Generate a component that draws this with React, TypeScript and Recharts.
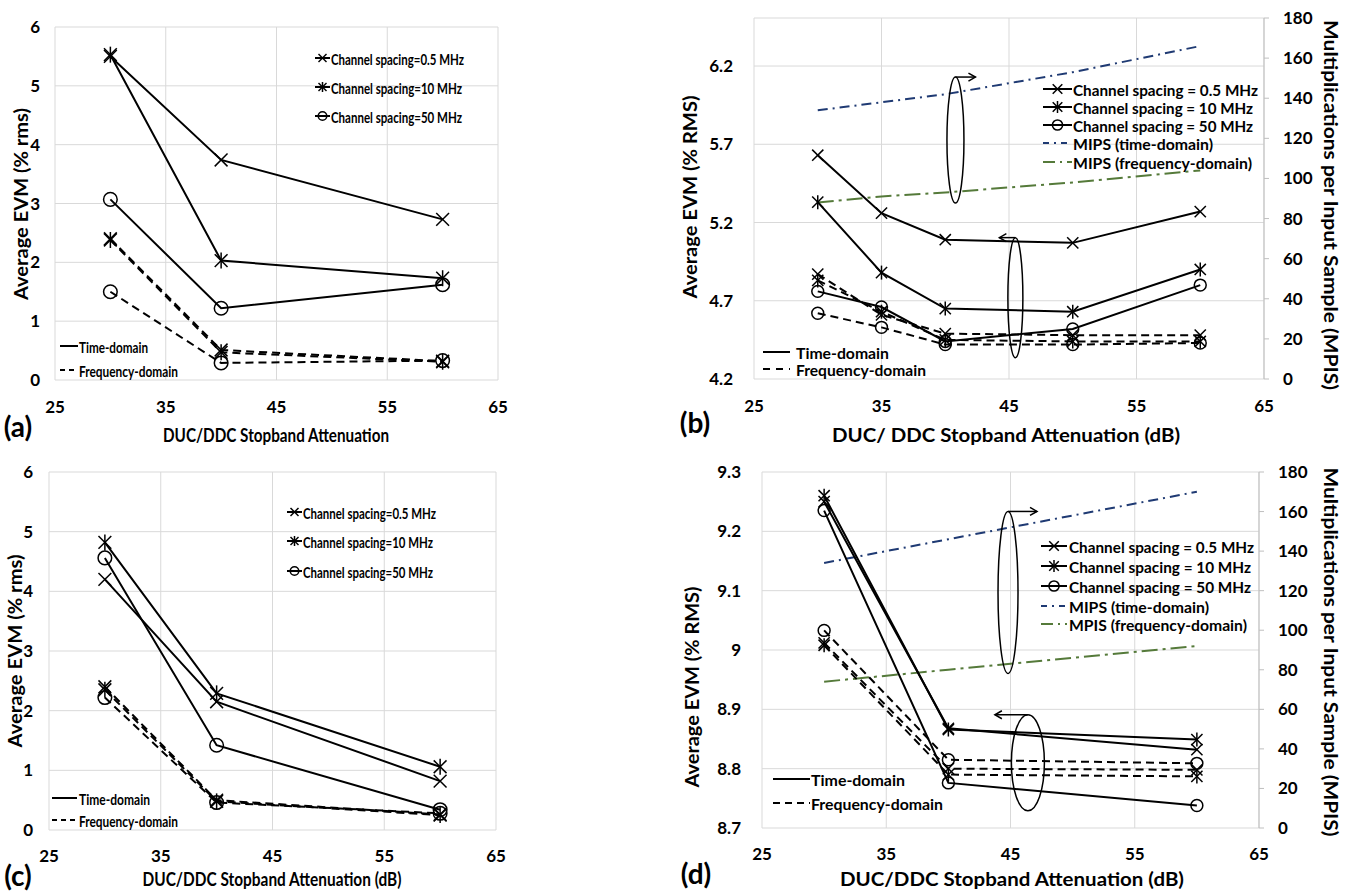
import React from "react";
import { LineChart, Line, XAxis, YAxis, CartesianGrid, ReferenceDot } from "recharts";

document.body.style.margin = "0";

const FONT = "Lato, 'Open Sans', 'DejaVu Sans', sans-serif";
const INK = "#000";
const GRID = "#d9d9d9";
const NAVY = "#1f3a73";
const OLIVE = "#557a3a";
const DASH = "8 5";
const DASH_DOT_TIME = "10 5 2 5";
const DASH_DOT_FREQ = "16 5 3 5";

// stopband attenuation points (dB)
const attenSparse = [30, 40, 60];
const attenDense = [30, 35, 40, 50, 60];
const attenTicks = [25, 35, 45, 55, 65];

// (a) average EVM (% rms)
const aTime05 = [5.5, 3.74, 2.73];
const aTime10 = [5.53, 2.03, 1.73];
const aTime50 = [3.07, 1.22, 1.62];
const aFreq05 = [2.4, 0.51, 0.32];
const aFreq10 = [2.38, 0.47, 0.31];
const aFreq50 = [1.5, 0.29, 0.33];

// (b) average EVM (% RMS) and multiplications per input sample
const bTime05 = [5.63, 5.26, 5.09, 5.07, 5.27];
const bTime10 = [5.33, 4.88, 4.65, 4.63, 4.9];
const bTime50 = [4.76, 4.66, 4.44, 4.52, 4.8];
const bFreq05 = [4.87, 4.61, 4.49, 4.48, 4.48];
const bFreq10 = [4.83, 4.63, 4.45, 4.44, 4.44];
const bFreq50 = [4.62, 4.53, 4.42, 4.42, 4.43];
const bMipsTime = [134, 138, 142, 153, 166];
const bMipsFreq = [88, 91, 93, 98, 104];

// (c) average EVM (% rms)
const cTime05 = [4.2, 2.15, 0.82];
const cTime10 = [4.82, 2.29, 1.06];
const cTime50 = [4.56, 1.42, 0.34];
const cFreq05 = [2.4, 0.5, 0.26];
const cFreq10 = [2.35, 0.48, 0.25];
const cFreq50 = [2.22, 0.46, 0.28];

// (d) average EVM (% RMS) and multiplications per input sample
const dTime05 = [9.25, 8.868, 8.832];
const dTime10 = [9.26, 8.866, 8.849];
const dTime50 = [9.235, 8.776, 8.738];
const dFreq05 = [9.012, 8.8, 8.798];
const dFreq10 = [9.008, 8.79, 8.787];
const dFreq50 = [9.033, 8.815, 8.809];
const dMipsTime = [134, 146, 170];
const dMipsFreq = [74, 80, 92];

const evmTicksRms = [0, 1, 2, 3, 4, 5, 6];
const evmTicksB = [4.2, 4.7, 5.2, 5.7, 6.2];
const evmTicksD = [8.7, 8.8, 8.9, 9, 9.1, 9.2, 9.3];
const mipsTicks = [0, 20, 40, 60, 80, 100, 120, 140, 160, 180];

type Row = Record<string, number>;

function buildRows(xs: number[], cols: Record<string, number[]>): Row[] {
  return xs.map((x, i) => {
    const r: Row = { x };
    for (const k of Object.keys(cols)) r[k] = cols[k][i];
    return r;
  });
}

const rowsA = buildRows(attenSparse, { t05: aTime05, t10: aTime10, t50: aTime50, f05: aFreq05, f10: aFreq10, f50: aFreq50 });
const rowsB = buildRows(attenDense, { t05: bTime05, t10: bTime10, t50: bTime50, f05: bFreq05, f10: bFreq10, f50: bFreq50, mt: bMipsTime, mf: bMipsFreq });
const rowsC = buildRows(attenSparse, { t05: cTime05, t10: cTime10, t50: cTime50, f05: cFreq05, f10: cFreq10, f50: cFreq50 });
const rowsD = buildRows(attenSparse, { t05: dTime05, t10: dTime10, t50: dTime50, f05: dFreq05, f10: dFreq10, f50: dFreq50, mt: dMipsTime, mf: dMipsFreq });

type Kind = "x" | "star" | "o";

const evmSeries: { key: string; kind: Kind; dashed: boolean }[] = [
  { key: "f05", kind: "x", dashed: true },
  { key: "f10", kind: "star", dashed: true },
  { key: "f50", kind: "o", dashed: true },
  { key: "t05", kind: "x", dashed: false },
  { key: "t10", kind: "star", dashed: false },
  { key: "t50", kind: "o", dashed: false },
];

function Marker({ cx, cy, kind, r }: { cx?: number; cy?: number; kind: Kind; r: number }) {
  if (cx == null || cy == null) return null;
  if (kind === "o") {
    return <circle cx={cx} cy={cy} r={r * 0.85} fill="none" stroke={INK} strokeWidth={1.5} />;
  }
  const d = r * 0.8;
  return (
    <g stroke={INK} strokeWidth={1.5}>
      <line x1={cx - d} y1={cy - d} x2={cx + d} y2={cy + d} />
      <line x1={cx - d} y1={cy + d} x2={cx + d} y2={cy - d} />
      {kind === "star" && <line x1={cx} y1={cy - r} x2={cx} y2={cy + r} />}
    </g>
  );
}

const dotFor = (kind: Kind, r: number) => (p: any) =>
  <Marker key={`${p.dataKey}-${p.index}`} cx={p.cx} cy={p.cy} kind={kind} r={r} />;

// ellipse grouping a set of curves, with an arrow to the axis they belong to
type Loop = { x: number; y: number; rx: number; ry: number; dir: 1 | -1; len: number };

function LoopShape({ cx, cy, loop }: { cx: number; cy: number; loop: Loop }) {
  const top = cy - loop.ry;
  const end = cx + loop.dir * loop.len;
  return (
    <g stroke={INK} strokeWidth={1.5} fill="none">
      <ellipse cx={cx} cy={cy} rx={loop.rx} ry={loop.ry} />
      <line x1={cx} y1={top} x2={end} y2={top} />
      <path d={`M${end - loop.dir * 7},${top - 4} L${end},${top} L${end - loop.dir * 7},${top + 4}`} />
    </g>
  );
}

const loopsB: Loop[] = [
  { x: 40.8, y: 5.727, rx: 8.5, ry: 63, dir: 1, len: 20 },
  { x: 45.5, y: 4.72, rx: 7.5, ry: 60, dir: -1, len: 16 },
];
const loopsD: Loop[] = [
  { x: 44.8, y: 9.097, rx: 10, ry: 81, dir: 1, len: 29 },
  { x: 46.4, y: 8.81, rx: 16.5, ry: 48, dir: -1, len: 33 },
];

const tickStyle = { fill: INK, fontSize: 17, fontWeight: 700, fontFamily: FONT };

type PanelProps = {
  left: number;
  top: number;
  width: number;
  height: number;
  plot: { l: number; r: number; t: number; b: number };
  rows: Row[];
  yDomain: [number, number];
  yTicks: number[];
  mips?: boolean;
  markerR: number;
  xGap: number;
  yGap: number;
  loops?: Loop[];
};

const RIGHT_W = 60;

function Panel(p: PanelProps) {
  const rightW = p.mips ? RIGHT_W : 0;
  return (
    <div style={{ position: "absolute", left: p.left, top: p.top }}>
      <LineChart
        width={p.width}
        height={p.height}
        data={p.rows}
        margin={{ top: p.plot.t, right: p.width - p.plot.r - rightW, bottom: 0, left: 0 }}
      >
        <CartesianGrid yAxisId="left" stroke={GRID} strokeWidth={1} />
        <XAxis
          type="number"
          dataKey="x"
          domain={[25, 65]}
          ticks={attenTicks}
          allowDataOverflow
          height={p.height - p.plot.b}
          axisLine={false}
          tickLine={false}
          tickSize={0}
          tickMargin={p.xGap}
          tick={tickStyle}
        />
        <YAxis
          yAxisId="left"
          domain={p.yDomain}
          ticks={p.yTicks}
          allowDataOverflow
          width={p.plot.l}
          axisLine={false}
          tickLine={false}
          tickSize={0}
          tickMargin={p.yGap}
          tick={tickStyle}
        />
        {p.mips && (
          <YAxis
            yAxisId="right"
            orientation="right"
            domain={[0, 180]}
            ticks={mipsTicks}
            width={RIGHT_W}
            axisLine={{ stroke: "#bfbfbf" }}
            tickLine={{ stroke: "#bfbfbf" }}
            tickSize={5}
            tickMargin={14}
            tick={tickStyle}
          />
        )}
        {p.mips && (
          <Line yAxisId="right" dataKey="mt" stroke={NAVY} strokeWidth={2} strokeDasharray={DASH_DOT_TIME}
            dot={false} activeDot={false} isAnimationActive={false} />
        )}
        {p.mips && (
          <Line yAxisId="right" dataKey="mf" stroke={OLIVE} strokeWidth={2} strokeDasharray={DASH_DOT_FREQ}
            dot={false} activeDot={false} isAnimationActive={false} />
        )}
        {evmSeries.map((s) => (
          <Line
            key={s.key}
            yAxisId="left"
            dataKey={s.key}
            stroke={INK}
            strokeWidth={2}
            strokeDasharray={s.dashed ? DASH : undefined}
            dot={dotFor(s.kind, p.markerR)}
            activeDot={false}
            isAnimationActive={false}
          />
        ))}
        {(p.loops || []).map((lp, i) => (
          <ReferenceDot
            key={i}
            yAxisId="left"
            x={lp.x}
            y={lp.y}
            ifOverflow="visible"
            shape={(sp: any) => <LoopShape cx={sp.cx} cy={sp.cy} loop={lp} />}
          />
        ))}
      </LineChart>
    </div>
  );
}

// ---- overlay text: axis titles, panel letters and legends ----

function Txt(props: {
  x: number; y: number; len?: number; size?: number; rot?: number; anchor?: "start" | "middle" | "end"; children: React.ReactNode;
}) {
  const { x, y, len, size = 19, rot = 0, anchor = "middle", children } = props;
  return (
    <text
      x={x}
      y={y}
      fontSize={size}
      fontWeight={700}
      fontFamily={FONT}
      fill={INK}
      textAnchor={anchor}
      dominantBaseline="central"
      textLength={len}
      lengthAdjust={len ? "spacingAndGlyphs" : undefined}
      transform={rot ? `rotate(${rot} ${x} ${y})` : undefined}
    >
      {children}
    </text>
  );
}

type Entry = { label: string; width: number; kind?: Kind; color?: string; dash?: string };

function LegendBlock({ x1, x2, tx, ys, size, markerR, entries }: {
  x1: number; x2: number; tx: number; ys: number[]; size: number; markerR: number; entries: Entry[];
}) {
  return (
    <g>
      {entries.map((e, i) => {
        const y = ys[i];
        const mid = (x1 + x2) / 2;
        return (
          <g key={e.label}>
            <line x1={x1} y1={y} x2={x2} y2={y} stroke={e.color || INK} strokeWidth={2} strokeDasharray={e.dash} />
            {e.kind && <Marker cx={mid} cy={y} kind={e.kind} r={markerR} />}
            <Txt x={tx} y={y} len={e.width} size={size} anchor="start">{e.label}</Txt>
          </g>
        );
      })}
    </g>
  );
}

function Overlay() {
  return (
    <svg width={1355} height={893} style={{ position: "absolute", left: 0, top: 0, pointerEvents: "none" }}>
      {/* (a) */}
      <Txt x={20} y={204} len={192} rot={-90}>Average EVM (% rms)</Txt>
      <Txt x={276} y={434} len={226}>DUC/DDC Stopband Attenuation</Txt>
      <Txt x={18} y={426} size={28}>(a)</Txt>
      <LegendBlock x1={315} x2={330} tx={331} ys={[58, 87, 116]} size={16} markerR={5} entries={[
        { label: "Channel spacing=0.5 MHz", width: 133, kind: "x" },
        { label: "Channel spacing=10 MHz", width: 131, kind: "star" },
        { label: "Channel spacing=50 MHz", width: 131, kind: "o" },
      ]} />
      <LegendBlock x1={60} x2={78} tx={79} ys={[346, 370]} size={16} markerR={0} entries={[
        { label: "Time-domain", width: 69 },
        { label: "Frequency-domain", width: 99, dash: "5 4" },
      ]} />

      {/* (b) */}
      <Txt x={689} y={197} len={203} rot={-90}>Average EVM (% RMS)</Txt>
      <Txt x={1006} y={434} len={348}>DUC/ DDC Stopband Attenuation (dB)</Txt>
      <Txt x={1331} y={205} len={370} rot={90}>Multiplications per Input Sample (MPIS)</Txt>
      <Txt x={695} y={422} size={28}>(b)</Txt>
      <LegendBlock x1={1043} x2={1072} tx={1073} ys={[89, 107, 125, 143, 162]} size={16} markerR={6} entries={[
        { label: "Channel spacing = 0.5 MHz", width: 185, kind: "x" },
        { label: "Channel spacing = 10 MHz", width: 180, kind: "star" },
        { label: "Channel spacing = 50 MHz", width: 180, kind: "o" },
        { label: "MIPS (time-domain)", width: 140, color: NAVY, dash: "6 5 2 5" },
        { label: "MIPS (frequency-domain)", width: 179, color: OLIVE, dash: "12 5 2 5" },
      ]} />
      <LegendBlock x1={763} x2={790} tx={796} ys={[352, 369]} size={16} markerR={0} entries={[
        { label: "Time-domain", width: 93 },
        { label: "Frequency-domain", width: 130, dash: "7 6" },
      ]} />

      {/* (c) */}
      <Txt x={14} y={651} len={193} rot={-90}>Average EVM (% rms)</Txt>
      <Txt x={272} y={879} len={259} size={18}>DUC/DDC Stopband Attenuation (dB)</Txt>
      <Txt x={18} y={875} size={28}>(c)</Txt>
      <LegendBlock x1={287} x2={302} tx={303} ys={[512, 541, 571]} size={16} markerR={5} entries={[
        { label: "Channel spacing=0.5 MHz", width: 133, kind: "x" },
        { label: "Channel spacing=10 MHz", width: 130, kind: "star" },
        { label: "Channel spacing=50 MHz", width: 130, kind: "o" },
      ]} />
      <LegendBlock x1={52} x2={77} tx={79} ys={[798, 820]} size={16} markerR={0} entries={[
        { label: "Time-domain", width: 71 },
        { label: "Frequency-domain", width: 99, dash: "5 4" },
      ]} />

      {/* (d) */}
      <Txt x={691} y={687} len={201} rot={-90}>Average EVM (% RMS)</Txt>
      <Txt x={1012} y={879} len={344} size={18}>DUC/DDC Stopband Attenuation (dB)</Txt>
      <Txt x={1331} y={652} len={369} rot={90}>Multiplications per Input Sample (MPIS)</Txt>
      <Txt x={696} y={873} size={28}>(d)</Txt>
      <LegendBlock x1={1041} x2={1067} tx={1069} ys={[546, 566, 586, 606, 624]} size={16} markerR={6} entries={[
        { label: "Channel spacing = 0.5 MHz", width: 185, kind: "x" },
        { label: "Channel spacing = 10 MHz", width: 182, kind: "star" },
        { label: "Channel spacing = 50 MHz", width: 182, kind: "o" },
        { label: "MIPS (time-domain)", width: 140, color: NAVY, dash: "6 5 2 5" },
        { label: "MPIS (frequency-domain)", width: 178, color: OLIVE, dash: "12 5 2 5" },
      ]} />
      <LegendBlock x1={773} x2={810} tx={811} ys={[779, 803]} size={16} markerR={0} entries={[
        { label: "Time-domain", width: 94 },
        { label: "Frequency-domain", width: 132, dash: "7 5" },
      ]} />
    </svg>
  );
}

export default function App() {
  return (
    <div style={{ position: "relative", width: 1355, height: 893, background: "#fff", fontFamily: FONT }}>
      <Panel left={0} top={0} width={680} height={446} plot={{ l: 55, r: 498, t: 27, b: 380 }}
        rows={rowsA} yDomain={[0, 6]} yTicks={evmTicksRms} markerR={8} xGap={21} yGap={15} />
      <Panel left={680} top={0} width={675} height={446} plot={{ l: 74, r: 584, t: 18, b: 379 }}
        rows={rowsB} yDomain={[4.2, 6.507]} yTicks={evmTicksB} mips markerR={7} xGap={21} yGap={21} loops={loopsB} />
      <Panel left={0} top={446} width={680} height={447} plot={{ l: 49, r: 496, t: 26, b: 384 }}
        rows={rowsC} yDomain={[0, 6]} yTicks={evmTicksRms} markerR={8} xGap={20} yGap={16} />
      <Panel left={680} top={446} width={675} height={447} plot={{ l: 82, r: 579, t: 26, b: 382 }}
        rows={rowsD} yDomain={[8.7, 9.3]} yTicks={evmTicksD} mips markerR={7} xGap={20} yGap={21} loops={loopsD} />
      <Overlay />
    </div>
  );
}
